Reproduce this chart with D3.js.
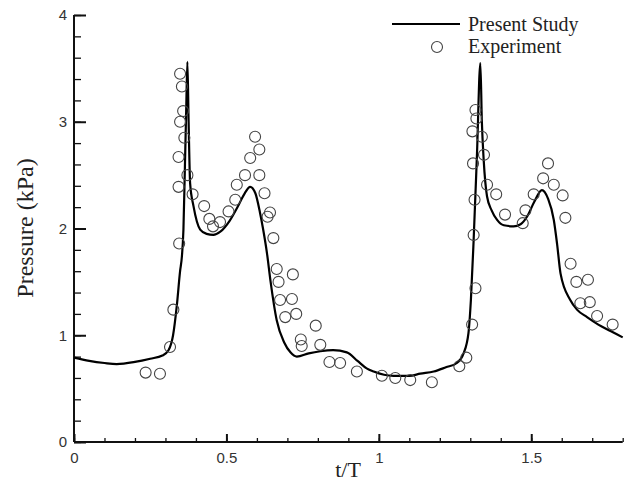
<!DOCTYPE html>
<html>
<head>
<meta charset="utf-8">
<script src="https://cdn.jsdelivr.net/npm/d3@7"></script>
<style>
  body { margin: 0; background: #fff; }
  svg { display: block; }
  .tick-label { font-family: "Liberation Sans", Arial, sans-serif; font-size: 15px; fill: #333; }
  .axis-title { font-family: "Liberation Serif", "Times New Roman", serif; fill: #222; }
  .legend-text { font-family: "Liberation Serif", "Times New Roman", serif; font-size: 20px; fill: #222; }
</style>
</head>
<body>
<div id="chart"></div>
<script>
// Present Study (simulation) curve
let simT = [0, 0.05, 0.10, 0.14, 0.20, 0.25, 0.29, 0.31, 0.325, 0.337, 0.348, 0.354, 0.359, 0.364, 0.368, 0.372,
    0.376, 0.381, 0.392, 0.414, 0.435, 0.457, 0.48, 0.51, 0.54, 0.56, 0.578, 0.595, 0.61, 0.62, 0.633, 0.645,
    0.665, 0.69, 0.71, 0.731, 0.77, 0.808, 0.85, 0.895, 0.93, 0.96, 0.983, 1.048, 1.10, 1.136, 1.18, 1.22,
    1.256, 1.278, 1.294, 1.302, 1.311, 1.322, 1.333, 1.338, 1.344, 1.355, 1.37, 1.388, 1.41, 1.442, 1.465,
    1.486, 1.51, 1.535, 1.555, 1.574, 1.585, 1.596, 1.628, 1.65, 1.683, 1.72, 1.76, 1.80];
let simP = [0.79, 0.76, 0.74, 0.73, 0.75, 0.78, 0.81, 0.86, 1.0, 1.27, 1.6, 1.74, 1.99, 2.6, 3.1, 3.56,
    3.0, 2.42, 2.21, 1.99, 1.95, 1.94, 1.97, 2.07, 2.22, 2.33, 2.39, 2.33, 2.15, 2.0, 1.77, 1.5,
    1.14, 0.93, 0.84, 0.80, 0.83, 0.85, 0.86, 0.84, 0.76, 0.69, 0.66, 0.62, 0.62, 0.64, 0.66, 0.70,
    0.74, 0.83, 1.02, 1.33, 1.89, 2.7, 3.55, 3.0, 2.64, 2.30, 2.17, 2.08, 2.03, 2.02, 2.04,
    2.11, 2.25, 2.36, 2.28, 2.08, 1.85, 1.58, 1.33, 1.24, 1.17, 1.10, 1.04, 0.98];

// Experiment points
let expT = [0.235, 0.282, 0.315, 0.326, 0.345, 0.348, 0.354, 0.358, 0.348, 0.362, 0.343, 0.372, 0.343, 0.389,
    0.427, 0.444, 0.456, 0.479, 0.507, 0.529, 0.534, 0.561, 0.578, 0.594, 0.608, 0.608, 0.625, 0.643, 0.635, 0.654,
    0.665, 0.671, 0.718, 0.676, 0.715, 0.693, 0.729, 0.793, 0.744, 0.747, 0.808, 0.838, 0.873, 0.928, 1.010, 1.054,
    1.103, 1.174, 1.264, 1.287,
    1.306, 1.317, 1.311, 1.314, 1.309, 1.307, 1.317, 1.320, 1.338, 1.345, 1.355, 1.385, 1.414, 1.472, 1.481, 1.508,
    1.539, 1.555, 1.574, 1.603, 1.612, 1.629, 1.648, 1.686, 1.661, 1.692, 1.716, 1.767];
let expP = [0.65, 0.64, 0.89, 1.24, 1.86, 3.45, 3.33, 3.10, 3.00, 2.85, 2.67, 2.50, 2.39, 2.32,
    2.21, 2.09, 2.02, 2.06, 2.16, 2.27, 2.41, 2.50, 2.66, 2.86, 2.74, 2.50, 2.33, 2.15, 2.11, 1.91,
    1.62, 1.50, 1.57, 1.33, 1.34, 1.17, 1.20, 1.09, 0.96, 0.90, 0.91, 0.75, 0.74, 0.66, 0.62, 0.60,
    0.58, 0.56, 0.71, 0.79,
    1.10, 1.44, 1.94, 2.27, 2.61, 2.91, 3.11, 3.03, 2.86, 2.69, 2.41, 2.32, 2.13, 2.05, 2.17, 2.32,
    2.47, 2.61, 2.41, 2.31, 2.10, 1.67, 1.50, 1.52, 1.30, 1.31, 1.18, 1.10];

// Tick values
let xMajor = [0, 0.5, 1, 1.5];
let xMinor = d3.range(0, 1.801, 0.1);
let yMajor = [0, 1, 2, 3, 4];
let yMinor = d3.range(0, 4.001, 0.2);

let width = 636;
let height = 484;

let svg = d3.select("#chart")
    .append("svg")
    .attr("width", width)
    .attr("height", height);

let x = d3.scaleLinear().domain([0, 1.8]).range([74, 622.7]);
let y = d3.scaleLinear().domain([0, 4]).range([442, 15]);

// Minor ticks (inward)
svg.append("g")
    .attr("transform", "translate(0," + y(0) + ")")
    .call(d3.axisBottom(x).tickValues(xMinor).tickSize(-4).tickSizeOuter(0).tickFormat(""))
    .call(g => g.select(".domain").remove())
    .selectAll("line").attr("stroke", "#111").attr("stroke-width", 1.3);

svg.append("g")
    .attr("transform", "translate(" + x(0) + ",0)")
    .call(d3.axisLeft(y).tickValues(yMinor).tickSize(-7).tickSizeOuter(0).tickFormat(""))
    .call(g => g.select(".domain").remove())
    .selectAll("line").attr("stroke", "#111").attr("stroke-width", 1.3);

// Major ticks + axis lines
let xAxis = svg.append("g")
    .attr("transform", "translate(0," + y(0) + ")")
    .call(d3.axisBottom(x).tickValues(xMajor).tickSize(-8).tickSizeOuter(0).tickPadding(6).tickFormat(d3.format("")));
xAxis.select(".domain").attr("stroke", "#111").attr("stroke-width", 2).attr("d", "M" + x(0) + ",0H" + x(1.8));
xAxis.selectAll("line").attr("stroke", "#111").attr("stroke-width", 2);
xAxis.selectAll("text").attr("class", "tick-label").attr("y", 10).attr("dy", "0.71em");

let yAxis = svg.append("g")
    .attr("transform", "translate(" + x(0) + ",0)")
    .call(d3.axisLeft(y).tickValues(yMajor).tickSize(-12).tickSizeOuter(0).tickFormat(d3.format("d")));
yAxis.select(".domain").attr("stroke", "#111").attr("stroke-width", 2).attr("d", "M0," + y(0) + "V" + y(4));
yAxis.selectAll("line").attr("stroke", "#111").attr("stroke-width", 2);
yAxis.selectAll("text").attr("class", "tick-label").attr("x", -7);

// Axis titles
svg.append("text")
    .attr("class", "axis-title")
    .attr("x", 348)
    .attr("y", 477)
    .attr("text-anchor", "middle")
    .style("font-size", "22px")
    .text("t/T");

svg.append("text")
    .attr("class", "axis-title")
    .attr("transform", "translate(33," + 228 + ") rotate(-90)")
    .attr("text-anchor", "middle")
    .style("font-size", "24px")
    .text("Pressure (kPa)");

// Simulation line
let simData = simT.map((t, i) => ({ t: t, p: simP[i] }));
let line = d3.line()
    .x(d => x(d.t))
    .y(d => y(d.p))
    .curve(d3.curveMonotoneX);

svg.append("path")
    .datum(simData)
    .attr("d", line)
    .attr("fill", "none")
    .attr("stroke", "#000")
    .attr("stroke-width", 2.2);

// Experiment circles
let expData = expT.map((t, i) => ({ t: t, p: expP[i] }));
svg.selectAll(".exp")
    .data(expData)
    .enter()
    .append("circle")
    .attr("class", "exp")
    .attr("cx", d => x(d.t))
    .attr("cy", d => y(d.p))
    .attr("r", 5.5)
    .attr("fill", "none")
    .attr("stroke", "#444")
    .attr("stroke-width", 1.1);

// Legend
let legend = svg.append("g");
legend.append("line")
    .attr("x1", 392).attr("x2", 460)
    .attr("y1", 24).attr("y2", 24)
    .attr("stroke", "#000")
    .attr("stroke-width", 2.2);
legend.append("text")
    .attr("class", "legend-text")
    .attr("x", 468).attr("y", 31)
    .text("Present Study");
legend.append("circle")
    .attr("cx", 437).attr("cy", 47)
    .attr("r", 5.5)
    .attr("fill", "none")
    .attr("stroke", "#444")
    .attr("stroke-width", 1.1);
legend.append("text")
    .attr("class", "legend-text")
    .attr("x", 468).attr("y", 53)
    .text("Experiment");
</script>
</body>
</html>
